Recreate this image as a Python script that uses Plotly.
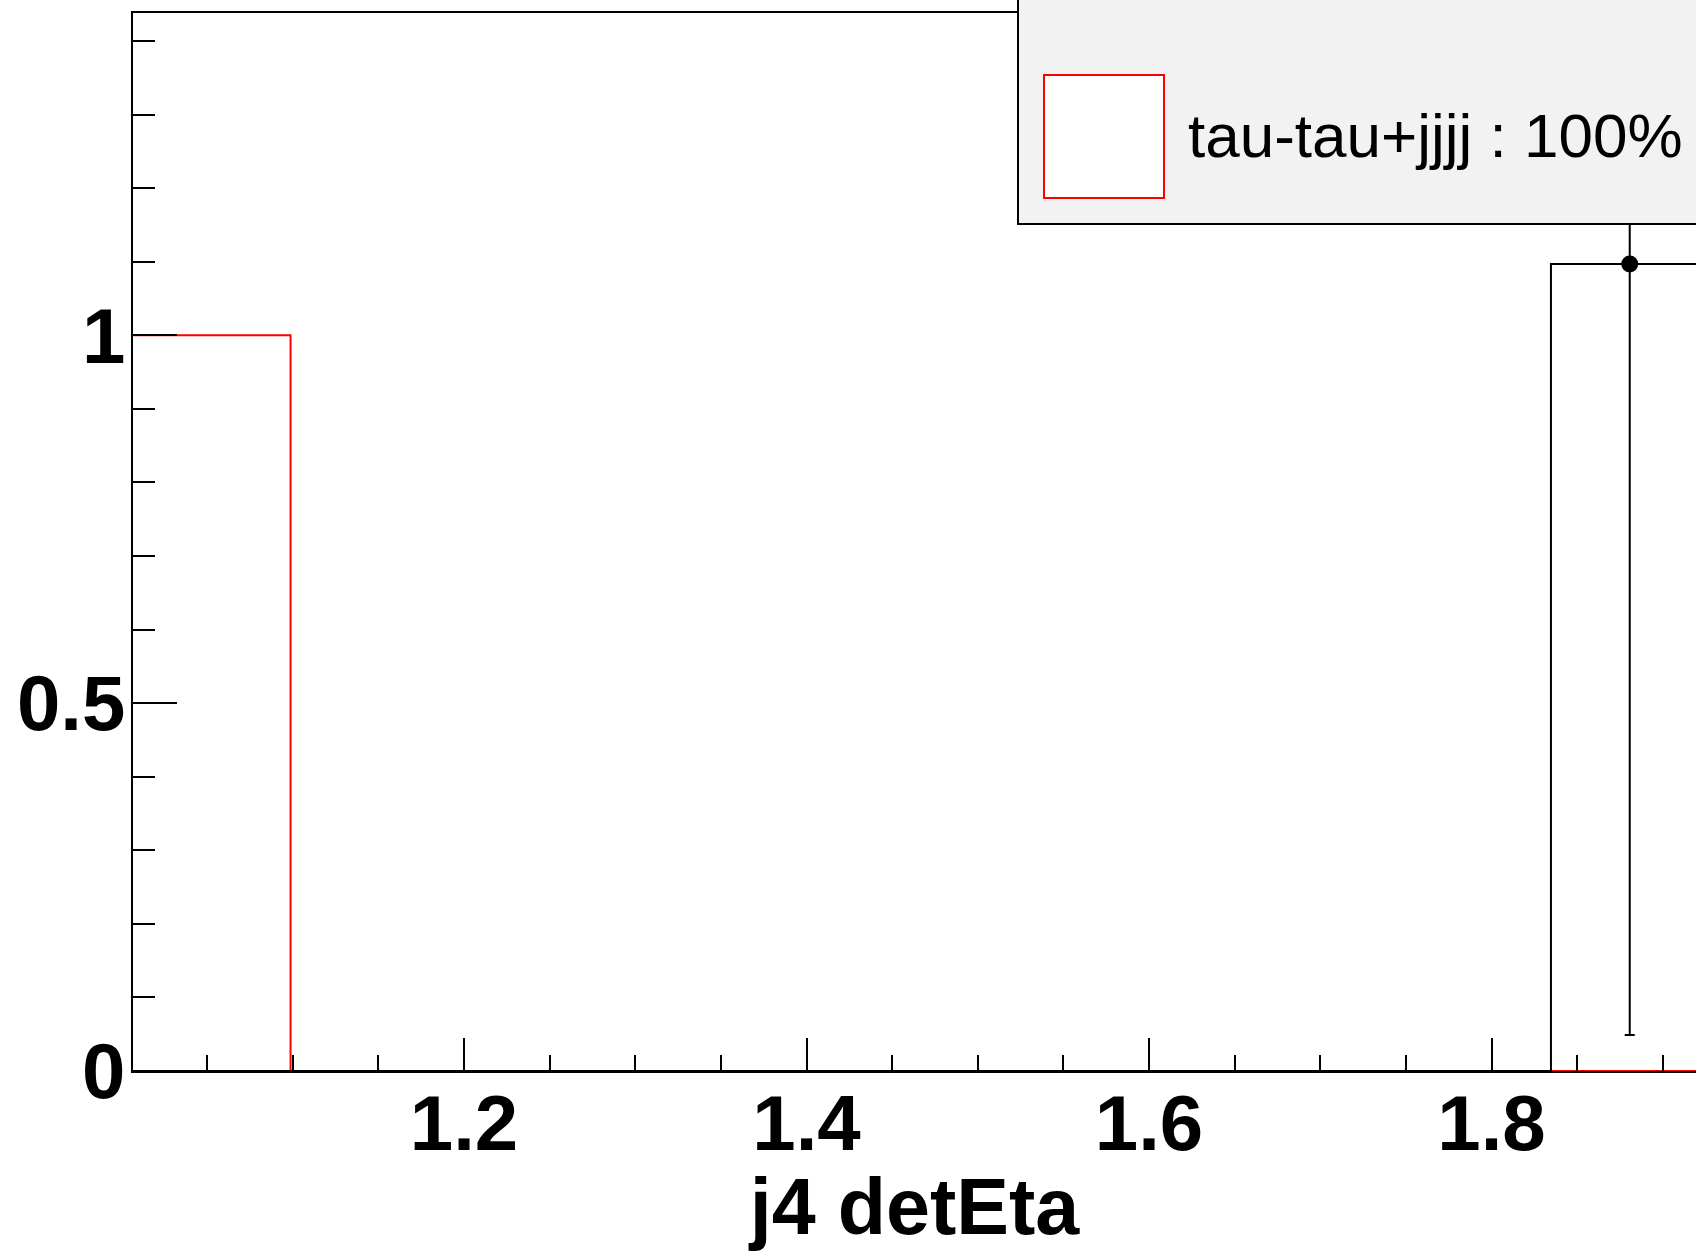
import plotly.graph_objects as go

# ---- data ----
x_min = 1.0067
x_max = 1.9194
bin_width = 0.092
n_bins = 10
red_counts = [1.0, 0, 0, 0, 0, 0, 0, 0, 0, 0]          # tau-tau+jjjj (stacked MC)
black_counts = [0, 0, 0, 0, 0, 0, 0, 0, 0, 1.097]      # data
black_errors = [0, 0, 0, 0, 0, 0, 0, 0, 0, 1.048]
legend_label = "tau-tau+jjjj : 100%"
x_title = "j4 detEta"
y_range = [0, 1.438]

edges = [x_min + i * bin_width for i in range(n_bins + 1)]
centers = [x_min + (i + 0.5) * bin_width for i in range(n_bins)]

W, H = 1696, 1251
# plot area in page pixel coordinates
L, R, T, B = 133, 1696, 13, 1071


def xp(px):
    return (px - L) / (R - L)


def yp(py):
    return (B - py) / (B - T)


fig = go.Figure()

# red histogram (step)
fig.add_trace(go.Scatter(
    x=edges, y=red_counts + [red_counts[-1]], mode="lines", line_shape="hv",
    line=dict(color="#ff0000", width=2), showlegend=False, hoverinfo="skip"))

# black histogram (step)
fig.add_trace(go.Scatter(
    x=edges, y=black_counts + [black_counts[-1]], mode="lines", line_shape="hv",
    line=dict(color="black", width=2), showlegend=False, hoverinfo="skip"))

# data points with errors (only nonzero bins)
px_, py_, pe_ = [], [], []
for c, v, e in zip(centers, black_counts, black_errors):
    if v > 0:
        px_.append(c); py_.append(v); pe_.append(e)
fig.add_trace(go.Scatter(
    x=px_, y=py_, mode="markers",
    marker=dict(color="black", size=17, symbol="circle"),
    error_y=dict(type="data", array=pe_, visible=True, color="black", thickness=2, width=5),
    showlegend=False, cliponaxis=True))

FAM = "Liberation Sans, Arial, sans-serif"
bold = dict(family=FAM, size=78, color="black", weight="bold")

fig.update_layout(
    width=W, height=H,
    margin=dict(l=L, r=W - R, t=T, b=H - B, pad=0),
    paper_bgcolor="white", plot_bgcolor="white",
    showlegend=False,
    xaxis=dict(
        range=[x_min, x_max], showgrid=False, zeroline=False,
        showline=True, linecolor="black", linewidth=2, mirror=True,
        ticks="inside", ticklen=33, tickwidth=2, tickcolor="black",
        dtick=0.2, tick0=0, tickformat=".1f",
        minor=dict(dtick=0.05, ticklen=16, tickwidth=2, tickcolor="black", ticks="inside"),
        tickfont=bold, ticklabelstandoff=-17,
        title=dict(text=x_title, font=dict(family=FAM, size=79, color="black", weight="bold"), standoff=12),
    ),
    yaxis=dict(
        range=y_range, showgrid=False, zeroline=False,
        showline=True, linecolor="black", linewidth=2, mirror=False,
        ticks="inside", ticklen=44, tickwidth=2, tickcolor="black",
        tickvals=[0, 0.5, 1], ticktext=["0", "0.5", "1"],
        minor=dict(dtick=0.1, ticklen=22, tickwidth=2, tickcolor="black", ticks="inside"),
        tickfont=bold, ticklabelstandoff=-10,
    ),
)

# legend box (ROOT TLegend style)
fig.add_shape(type="rect", xref="paper", yref="paper",
              x0=xp(1018), x1=xp(1780), y0=yp(224), y1=yp(-40),
              fillcolor="#f2f2f2", line=dict(color="black", width=2), layer="above")
fig.add_shape(type="rect", xref="paper", yref="paper",
              x0=xp(1044), x1=xp(1164), y0=yp(198), y1=yp(75),
              fillcolor="white", line=dict(color="#ff0000", width=2), layer="above")
fig.add_annotation(xref="paper", yref="paper", x=xp(1186), y=yp(135),
                   xanchor="left", yanchor="middle", showarrow=False,
                   text=legend_label,
                   font=dict(family=FAM, size=62, color="black"))

fig.write_html(
    "out.html",
    config={"displayModeBar": False},
    post_script="document.body.style.margin='0';document.body.style.overflow='hidden';"
                "document.documentElement.style.overflow='hidden';",
)
